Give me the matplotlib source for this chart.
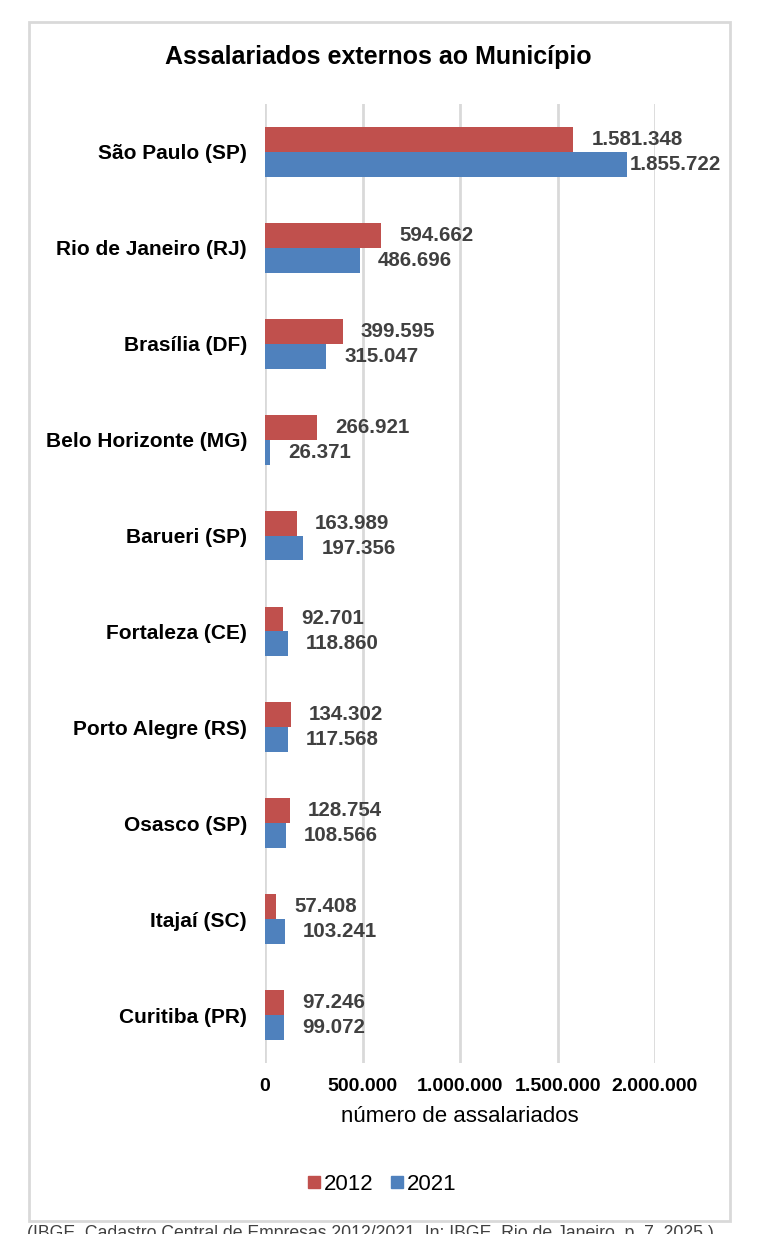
import matplotlib
matplotlib.use("Agg")
import matplotlib.pyplot as plt
import numpy as np
from matplotlib.patches import Rectangle
from matplotlib.lines import Line2D

plt.rcParams['font.family'] = ['Liberation Sans', 'DejaVu Sans']

categories = ["São Paulo (SP)", "Rio de Janeiro (RJ)", "Brasília (DF)", "Belo Horizonte (MG)",
              "Barueri (SP)", "Fortaleza (CE)", "Porto Alegre (RS)", "Osasco (SP)",
              "Itajaí (SC)", "Curitiba (PR)"]
v2012 = [1581348, 594662, 399595, 266921, 163989, 92701, 134302, 128754, 57408, 97246]
v2021 = [1855722, 486696, 315047, 26371, 197356, 118860, 117568, 108566, 103241, 99072]
xticks = [0, 500000, 1000000, 1500000, 2000000]
xtick_labels = ["0", "500.000", "1.000.000", "1.500.000", "2.000.000"]
series_names = ["2012", "2021"]
title = "Assalariados externos ao Município"
xlabel = "número de assalariados"
source = "(IBGE, Cadastro Central de Empresas 2012/2021. In: IBGE, Rio de Janeiro, p. 7, 2025.)"

RED = "#C0504D"
BLUE = "#4F81BD"
GRID = "#D9D9D9"

W, H = 778, 1234
fig = plt.figure(figsize=(W/100, H/100), dpi=100)

# outer frame
fig.patches.append(Rectangle((29/W, 1-1221/H), (730-29)/W, (1221-22)/H,
                             transform=fig.transFigure, fill=False,
                             edgecolor=GRID, linewidth=2))

ax = fig.add_axes([265/W, 1-1063/H, (655-265)/W, (1063-104)/H])
y = np.arange(len(categories))
h = 0.26
ax.barh(y - h/2, v2012, height=h, color=RED, zorder=3)
ax.barh(y + h/2, v2021, height=h, color=BLUE, zorder=3)

ax.set_xlim(0, 2000000)
ax.set_ylim(len(categories) - 0.5, -0.5)
ax.set_xticks(xticks)
ax.set_xticklabels(xtick_labels, fontsize=14, fontweight='bold')
ax.set_yticks(y)
ax.set_yticklabels(categories, fontsize=15, fontweight='bold')
ax.tick_params(axis='both', length=0)
ax.tick_params(axis='x', pad=11)
ax.tick_params(axis='y', pad=13)
for s in ax.spines.values():
    s.set_visible(False)
ax.grid(axis='x', color=GRID, linewidth=2, zorder=0)
ax.set_axisbelow(True)
ax.set_xlabel(xlabel, fontsize=16, labelpad=8)

def fmt(v):
    return f"{v:,}".replace(",", ".")

labels = []
for vals, off in ((v2012, -h/2), (v2021, h/2)):
    for i, v in enumerate(vals):
        txt = ax.annotate(fmt(v), (v, i + off), xytext=(13, 0), textcoords='offset points',
                          ha='left', va='center', fontsize=14.8, fontweight='bold',
                          color='#404040', annotation_clip=False)
        labels.append(txt)

fig.text(378/W, 1-57/H, title, ha='center', va='center', fontsize=18, fontweight='bold')

handles = [Line2D([0], [0], marker='s', linestyle='none', markersize=8.6, color=c) for c in (RED, BLUE)]
fig.legend(handles, series_names, loc='center', bbox_to_anchor=(382/W, 1-1184/H),
           ncol=2, frameon=False, fontsize=16, handlelength=0.6, handletextpad=0.15,
           columnspacing=0.75, borderpad=0.2)

fig.text(27/W, 1-1225/H, source, ha='left', va='top', fontsize=12.7, color='#404040')

# keep value labels inside the chart frame (as the original does)
fig.canvas.draw()
renderer = fig.canvas.get_renderer()
right_limit_px = 721
for txt in labels:
    bb = txt.get_window_extent(renderer)
    if bb.x1 > right_limit_px:
        shift_pt = (bb.x1 - right_limit_px) * 72 / fig.dpi
        txt.xyann = (txt.xyann[0] - shift_pt, 0)

fig.savefig("out.png", dpi=100)
